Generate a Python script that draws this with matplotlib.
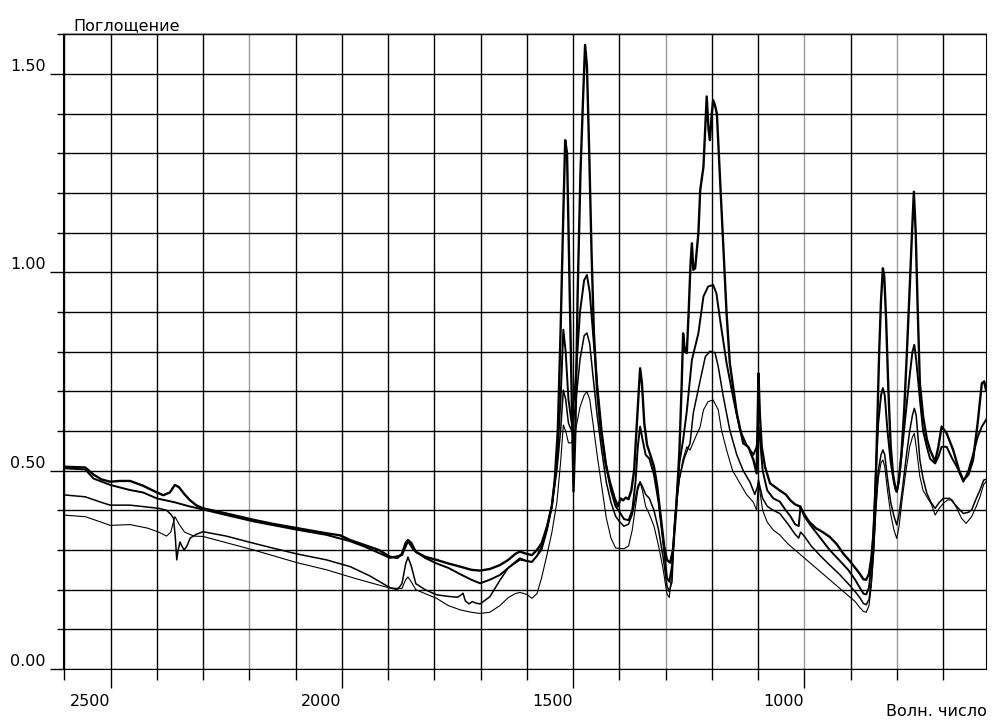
import numpy as np
import matplotlib.pyplot as plt
from matplotlib.ticker import MultipleLocator

# IR spectra, four samples
wn_a = [2603, 2555, 2537, 2520, 2501, 2480, 2458, 2430, 2400, 2386, 2372, 2361, 2352, 2340, 2328, 2314, 2300,
        2250, 2191, 2150, 2097, 2033, 2004, 1982, 1950, 1920, 1896, 1880, 1870, 1862, 1857, 1850, 1840, 1820,
        1795, 1770, 1744, 1720, 1701, 1680, 1658, 1640, 1625, 1615, 1600, 1589, 1578, 1568, 1556, 1546, 1540,
        1533, 1527, 1521, 1517, 1513, 1508, 1503, 1499, 1495, 1490, 1484, 1478, 1474, 1470, 1465, 1460, 1455,
        1448, 1440, 1430, 1420, 1410, 1403, 1397, 1392, 1386, 1380, 1374, 1368, 1362, 1355, 1351, 1346, 1340,
        1333, 1325, 1318, 1310, 1303, 1297, 1290, 1284, 1277, 1270, 1265, 1262, 1258, 1254, 1250, 1246, 1243,
        1240, 1236, 1229, 1225, 1218, 1211, 1207, 1204, 1200, 1197, 1193, 1189, 1182, 1175, 1168, 1161, 1146,
        1132, 1121, 1110, 1103, 1099, 1096, 1092, 1085, 1074, 1053, 1040, 1030, 1020, 1010, 1000, 990, 975,
        960, 945, 930, 915, 900, 890, 880, 872, 866, 860, 855, 850, 846, 842, 838, 834, 830, 827, 823, 818,
        813, 808, 803, 800, 796, 790, 784, 778, 772, 767, 763, 759, 755, 750, 743, 735, 728, 717, 710, 703,
        692, 678, 665, 656, 645, 635, 625, 616, 611, 607]
ab_a = [0.510, 0.508, 0.490, 0.478, 0.472, 0.474, 0.474, 0.462, 0.445, 0.438, 0.445, 0.464, 0.458, 0.440,
        0.425, 0.412, 0.405, 0.392, 0.376, 0.366, 0.355, 0.342, 0.337, 0.325, 0.312, 0.300, 0.283, 0.280,
        0.290, 0.318, 0.325, 0.318, 0.295, 0.283, 0.275, 0.266, 0.258, 0.250, 0.248, 0.252, 0.262, 0.275,
        0.290, 0.296, 0.290, 0.287, 0.300, 0.317, 0.360, 0.410, 0.470, 0.600, 0.850, 1.150, 1.333, 1.300,
        1.000, 0.700, 0.447, 0.600, 0.950, 1.250, 1.450, 1.573, 1.520, 1.300, 1.050, 0.850, 0.700, 0.600,
        0.520, 0.470, 0.430, 0.410, 0.430, 0.425, 0.432, 0.428, 0.450, 0.500, 0.620, 0.758, 0.720, 0.620,
        0.565, 0.540, 0.510, 0.460, 0.380, 0.310, 0.275, 0.268, 0.300, 0.400, 0.550, 0.720, 0.846, 0.800,
        0.796, 0.900, 1.020, 1.073, 1.006, 1.010, 1.098, 1.207, 1.266, 1.443, 1.360, 1.333, 1.400, 1.434,
        1.420, 1.400, 1.233, 1.065, 0.896, 0.771, 0.645, 0.569, 0.560, 0.527, 0.493, 0.745, 0.640, 0.560,
        0.510, 0.468, 0.450, 0.440, 0.425, 0.415, 0.410, 0.390, 0.372, 0.355, 0.345, 0.333, 0.315, 0.290,
        0.270, 0.255, 0.240, 0.226, 0.225, 0.240, 0.280, 0.340, 0.450, 0.620, 0.800, 0.930, 1.010, 0.990,
        0.880, 0.700, 0.560, 0.490, 0.455, 0.447, 0.470, 0.540, 0.650, 0.800, 0.960, 1.100, 1.203, 1.100,
        0.920, 0.720, 0.636, 0.580, 0.552, 0.523, 0.560, 0.611, 0.594, 0.552, 0.500, 0.476, 0.490, 0.527,
        0.620, 0.720, 0.725, 0.703]

wn_b = [2603, 2555, 2537, 2501, 2458, 2430, 2400, 2361, 2330, 2300, 2250, 2191, 2097, 2033, 1982, 1950,
        1896, 1870, 1857, 1845, 1820, 1795, 1770, 1744, 1720, 1701, 1680, 1658, 1640, 1615, 1600, 1589, 1578,
        1568, 1556, 1546, 1535, 1527, 1521, 1516, 1510, 1503, 1495, 1485, 1476, 1470, 1464, 1457, 1448, 1438,
        1428, 1418, 1408, 1400, 1390, 1380, 1372, 1365, 1360, 1355, 1350, 1343, 1335, 1325, 1315, 1305, 1297,
        1292, 1286, 1278, 1270, 1262, 1254, 1243, 1229, 1218, 1208, 1197, 1190, 1182, 1168, 1154, 1139, 1125,
        1110, 1103, 1099, 1095, 1090, 1080, 1067, 1053, 1040, 1030, 1020, 1012, 1008, 1000, 985, 965, 945,
        925, 905, 890, 880, 872, 866, 860, 855, 850, 845, 840, 834, 830, 826, 820, 813, 806, 800, 795, 788,
        780, 772, 766, 762, 758, 750, 743, 735, 728, 717, 710, 703, 692, 680, 670, 656, 645, 635, 625, 616,
        607]
ab_b = [0.506, 0.503, 0.480, 0.464, 0.451, 0.445, 0.430, 0.420, 0.410, 0.402, 0.388, 0.372, 0.351, 0.338,
        0.322, 0.308, 0.280, 0.287, 0.322, 0.300, 0.280, 0.266, 0.255, 0.239, 0.225, 0.216, 0.225, 0.237,
        0.255, 0.279, 0.272, 0.270, 0.285, 0.308, 0.360, 0.410, 0.520, 0.680, 0.855, 0.800, 0.680, 0.620,
        0.720, 0.900, 0.980, 0.993, 0.950, 0.850, 0.720, 0.600, 0.510, 0.450, 0.410, 0.397, 0.378, 0.375,
        0.400, 0.470, 0.560, 0.611, 0.580, 0.540, 0.530, 0.490, 0.420, 0.320, 0.230, 0.220, 0.260, 0.400,
        0.520, 0.577, 0.650, 0.779, 0.846, 0.939, 0.964, 0.968, 0.947, 0.880, 0.771, 0.686, 0.602, 0.565,
        0.540, 0.560, 0.611, 0.570, 0.500, 0.450, 0.430, 0.422, 0.400, 0.385, 0.365, 0.360, 0.410, 0.385,
        0.360, 0.330, 0.300, 0.275, 0.250, 0.225, 0.205, 0.190, 0.188, 0.205, 0.260, 0.360, 0.500, 0.620,
        0.690, 0.708, 0.690, 0.600, 0.520, 0.470, 0.447, 0.480, 0.560, 0.650, 0.740, 0.800, 0.817, 0.780,
        0.680, 0.600, 0.560, 0.530, 0.518, 0.535, 0.560, 0.560, 0.530, 0.510, 0.472, 0.500, 0.540, 0.585,
        0.611, 0.628]

wn_c = [2603, 2555, 2520, 2501, 2458, 2420, 2396, 2379, 2370, 2364, 2360, 2357, 2354, 2350, 2346, 2341,
        2335, 2328, 2314, 2300, 2250, 2191, 2150, 2097, 2033, 1982, 1940, 1896, 1880, 1870, 1862, 1857, 1850,
        1840, 1820, 1795, 1770, 1750, 1744, 1738, 1733, 1725, 1718, 1710, 1701, 1680, 1658, 1640, 1615, 1600,
        1589, 1578, 1568, 1556, 1546, 1535, 1527, 1521, 1516, 1510, 1503, 1495, 1485, 1476, 1470, 1464, 1457,
        1448, 1438, 1428, 1418, 1408, 1400, 1390, 1380, 1372, 1365, 1360, 1355, 1350, 1343, 1335, 1325, 1315,
        1305, 1297, 1292, 1286, 1280, 1270, 1260, 1247, 1240, 1225, 1214, 1204, 1193, 1186, 1175, 1161, 1146,
        1132, 1117, 1107, 1101, 1099, 1096, 1090, 1080, 1067, 1053, 1035, 1020, 1012, 1008, 1000, 985, 965,
        945, 925, 905, 890, 880, 872, 866, 860, 855, 850, 845, 840, 834, 830, 826, 820, 813, 806, 800, 795,
        788, 780, 772, 766, 762, 758, 750, 743, 735, 726, 717, 708, 699, 685, 670, 656, 645, 638, 628, 620,
        612, 607]
ab_c = [0.439, 0.434, 0.420, 0.413, 0.413, 0.408, 0.405, 0.400, 0.390, 0.380, 0.330, 0.275, 0.300, 0.320,
        0.310, 0.300, 0.310, 0.330, 0.340, 0.346, 0.335, 0.317, 0.305, 0.290, 0.275, 0.258, 0.235, 0.205,
        0.200, 0.215, 0.265, 0.282, 0.260, 0.215, 0.200, 0.187, 0.183, 0.181, 0.185, 0.191, 0.172, 0.164,
        0.170, 0.166, 0.164, 0.182, 0.224, 0.255, 0.275, 0.272, 0.270, 0.285, 0.300, 0.350, 0.410, 0.500,
        0.600, 0.703, 0.680, 0.620, 0.600, 0.660, 0.780, 0.840, 0.847, 0.820, 0.740, 0.640, 0.550, 0.470,
        0.420, 0.385, 0.372, 0.360, 0.365, 0.390, 0.430, 0.460, 0.472, 0.460, 0.440, 0.430, 0.400, 0.350,
        0.280, 0.210, 0.195, 0.220, 0.380, 0.480, 0.530, 0.569, 0.645, 0.728, 0.787, 0.801, 0.797, 0.762,
        0.686, 0.602, 0.540, 0.500, 0.470, 0.440, 0.460, 0.476, 0.460, 0.430, 0.410, 0.400, 0.392, 0.365,
        0.340, 0.330, 0.345, 0.335, 0.310, 0.285, 0.262, 0.240, 0.215, 0.195, 0.180, 0.165, 0.162, 0.175,
        0.220, 0.300, 0.420, 0.500, 0.540, 0.552, 0.540, 0.480, 0.420, 0.385, 0.363, 0.390, 0.450, 0.530,
        0.600, 0.640, 0.657, 0.640, 0.527, 0.480, 0.443, 0.420, 0.405, 0.420, 0.430, 0.430, 0.409, 0.392,
        0.395, 0.401, 0.430, 0.451, 0.476, 0.478]

wn_d = [2603, 2555, 2520, 2501, 2458, 2420, 2396, 2379, 2370, 2361, 2352, 2340, 2320, 2300, 2191, 2097,
        2033, 1982, 1940, 1896, 1870, 1862, 1857, 1850, 1840, 1820, 1795, 1770, 1744, 1720, 1701, 1680, 1658,
        1640, 1625, 1615, 1600, 1589, 1578, 1568, 1556, 1546, 1535, 1527, 1521, 1516, 1510, 1503, 1495, 1485,
        1476, 1470, 1464, 1457, 1448, 1438, 1428, 1418, 1408, 1400, 1390, 1380, 1372, 1365, 1360, 1355, 1350,
        1343, 1335, 1325, 1315, 1305, 1297, 1292, 1286, 1278, 1270, 1262, 1254, 1247, 1236, 1225, 1218, 1208,
        1197, 1186, 1179, 1168, 1155, 1140, 1125, 1110, 1103, 1099, 1095, 1090, 1080, 1067, 1053, 1035, 1020,
        1005, 985, 965, 945, 925, 905, 890, 880, 872, 866, 860, 855, 850, 845, 840, 834, 830, 826, 820, 813,
        806, 800, 795, 788, 780, 772, 766, 762, 758, 750, 743, 735, 725, 717, 708, 699, 690, 680, 670, 660,
        650, 638, 628, 620, 612, 607]
ab_d = [0.388, 0.384, 0.370, 0.362, 0.364, 0.355, 0.345, 0.335, 0.345, 0.384, 0.365, 0.345, 0.335, 0.334,
        0.300, 0.268, 0.250, 0.232, 0.218, 0.204, 0.203, 0.225, 0.232, 0.220, 0.200, 0.190, 0.178, 0.160,
        0.149, 0.143, 0.140, 0.143, 0.160, 0.180, 0.190, 0.193, 0.188, 0.178, 0.190, 0.230, 0.290, 0.343,
        0.420, 0.520, 0.615, 0.600, 0.570, 0.570, 0.600, 0.660, 0.690, 0.699, 0.680, 0.620, 0.540, 0.460,
        0.380, 0.330, 0.305, 0.304, 0.303, 0.310, 0.350, 0.410, 0.450, 0.470, 0.450, 0.410, 0.390, 0.360,
        0.310, 0.250, 0.190, 0.180, 0.250, 0.400, 0.480, 0.530, 0.560, 0.552, 0.582, 0.611, 0.653, 0.674,
        0.678, 0.653, 0.602, 0.552, 0.500, 0.470, 0.440, 0.420, 0.400, 0.472, 0.440, 0.400, 0.370, 0.350,
        0.338, 0.315, 0.300, 0.285, 0.265, 0.245, 0.225, 0.205, 0.185, 0.170, 0.155, 0.145, 0.143, 0.160,
        0.210, 0.290, 0.400, 0.480, 0.520, 0.527, 0.510, 0.450, 0.390, 0.350, 0.329, 0.360, 0.430, 0.500,
        0.560, 0.585, 0.594, 0.560, 0.485, 0.450, 0.434, 0.415, 0.388, 0.405, 0.418, 0.426, 0.426, 0.405,
        0.380, 0.367, 0.384, 0.410, 0.434, 0.465, 0.472]

# grid lines that come out light grey in the reference raster
grey_lines = [2200, 1300, 1000, 800]

plt.rcParams['font.family'] = ['DejaVu Sans']

fig = plt.figure(figsize=(9.92, 7.22), dpi=100)
ax = fig.add_axes([63 / 992, 53 / 722, 923 / 992, 636 / 722])

ax.plot(wn_d, ab_d, color='black', lw=0.8)
ax.plot(wn_c, ab_c, color='black', lw=1.1)
ax.plot(wn_b, ab_b, color='black', lw=1.4)
ax.plot(wn_a, ab_a, color='black', lw=1.7)

ax.set_xlim(2603, 607)
ax.set_ylim(0, 1.603)

ax.xaxis.set_major_locator(MultipleLocator(500))
ax.xaxis.set_minor_locator(MultipleLocator(100))
ax.yaxis.set_major_locator(MultipleLocator(0.5))
ax.yaxis.set_minor_locator(MultipleLocator(0.1))
ax.grid(which='both', color='black', lw=1.0)
ax.set_axisbelow(True)

ax.tick_params(axis='x', which='major', length=14, width=1.0, pad=4, labelsize=11.5)
ax.tick_params(axis='x', which='minor', length=8, width=1.0)
ax.tick_params(axis='y', which='major', length=9.5, width=1.0, pad=3, labelsize=11.5)
ax.tick_params(axis='y', which='minor', length=4.5, width=1.0)
ax.yaxis.set_major_formatter(lambda v, p: f'{v:.2f}')
for lbl in ax.get_xticklabels():
    lbl.set_ha('right')
for lbl in ax.get_yticklabels():
    lbl.set_va('bottom')

fig.canvas.draw()
for tick in ax.xaxis.get_major_ticks() + ax.xaxis.get_minor_ticks():
    if round(tick.get_loc()) in grey_lines:
        tick.gridline.set_color('#9a9a9a')
        tick.tick1line.set_color('#9a9a9a')

for s in ax.spines.values():
    s.set_color('black')
ax.spines['top'].set_color('#999999')

fig.text(73 / 992, 1 - 30 / 722, 'Поглощение', fontsize=11.5, ha='left', va='baseline')
fig.text(987 / 992, 1 - 716 / 722, 'Волн. число', fontsize=11.5, ha='right', va='baseline')

fig.savefig('out.png', dpi=100)
